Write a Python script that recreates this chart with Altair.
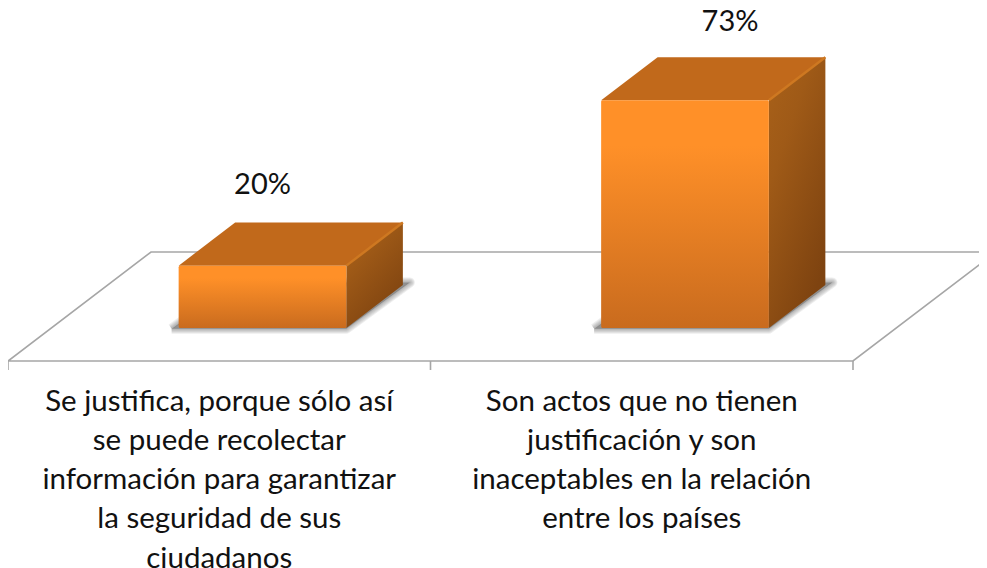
import altair as alt
import pandas as pd

categories = ["A", "B"]
values = [20, 73]
value_labels = ["20%", "73%"]
category_lines = [
    ["Se justifica, porque sólo así", "se puede recolectar", "información para garantizar",
     "la seguridad de sus", "ciudadanos"],
    ["Son actos que no tienen", "justificación y son", "inaceptables en la relación",
     "entre los países"],
]

W, H = 971, 560
PX_X = 422.5            # pixels per category
PX_Y = 3.12             # pixels per percentage point
Y0 = 353.0              # pixel row of the floor's front edge
DX, DY = 143 / PX_X, 109 / PX_Y   # floor depth as x and y units
BAR_W, BAR_D = 0.397, 0.395
x_scale = alt.Scale(domain=[0, W / PX_X], range=[0, W], nice=False, zero=False)
y_scale = alt.Scale(domain=[-(H - Y0) / PX_Y, Y0 / PX_Y], range=[H, 0], nice=False, zero=False)


def px(i, u, d):
    return i + 0.5 + u * BAR_W + d * DX


def py(v, d):
    return v + d * DY


D_F = (1 - BAR_D) / 2
D_B = D_F + BAR_D

X = alt.X("x:Q", scale=x_scale, axis=None)
Y = alt.Y("y:Q", scale=y_scale, axis=None)
X2 = alt.X2("x2:Q")
Y2 = alt.Y2("y2:Q")

# floor
floor = pd.DataFrame([
    {"x": 0, "y": 0, "o": 0},
    {"x": 2, "y": 0, "o": 1},
    {"x": 2 + DX, "y": DY, "o": 2},
    {"x": DX, "y": DY, "o": 3},
    {"x": 0, "y": 0, "o": 4},
])
floor_layer = alt.Chart(floor).mark_line(color="#A6A6A6", strokeWidth=1.6, clip=True).encode(
    x=X, y=Y, order="o:Q")

ticks = pd.DataFrame({"x": [0, 1, 2], "y": [0, 0, 0], "y2": [-9 / PX_Y] * 3})
tick_layer = alt.Chart(ticks).mark_rule(color="#A6A6A6", strokeWidth=1.6).encode(x=X, y=Y, y2=Y2)

# soft shadows on the floor: a filled core and widening translucent outlines
shadow_rows, core_rows = [], []
for i, c in enumerate(categories):
    x_fl, x_fr = px(i, -0.5, D_F) - 7 / PX_X, px(i, 0.5, D_F)
    x_bl, x_br = px(i, -0.5, D_B), px(i, 0.5, D_B) + 7 / PX_X
    yf, yb = py(-0.2, D_F), py(0.8, D_B)
    for o, (a, b) in enumerate([(x_fl, yf), (x_fr, yf), (x_br, yb), (x_bl, yb), (x_fl, yf)]):
        shadow_rows.append({"x": a, "y": b, "o": o, "bar": c})
    core_rows.append({"bar": c, "y": yf, "x": x_fl, "x2": x_fr})
    core_rows.append({"bar": c, "y": yb, "x": x_bl, "x2": x_br})
shadow = pd.DataFrame(shadow_rows)
core = pd.DataFrame(core_rows)
shadow_core = alt.Chart(core).mark_area(orient="horizontal", color="#555555", opacity=0.45).encode(
    y=Y, x=X, x2=X2, detail="bar:N")
shadow_layers = [
    alt.Chart(shadow).mark_line(color="#555555", strokeWidth=w, opacity=0.1, strokeJoin="round").encode(
        x=X, y=Y, order="o:Q", detail="bar:N")
    for w in (10, 8, 6, 4, 2)
] + [shadow_core]

# top faces
top = pd.DataFrame([
    {"bar": c, "y": py(v, d), "x": px(i, -0.5, d), "x2": px(i, 0.5, d)}
    for i, (c, v) in enumerate(zip(categories, values)) for d in (D_F, D_B)
])
top_layer = alt.Chart(top).mark_area(orient="horizontal", color="#C1691B").encode(
    y=Y, x=X, x2=X2, detail="bar:N")

# side faces
side = pd.DataFrame([
    {"bar": c, "x": px(i, 0.5, d), "y": py(v, d), "y2": py(0, d)}
    for i, (c, v) in enumerate(zip(categories, values)) for d in (D_F, D_B)
])
side_grad = alt.Gradient(gradient="linear", x1=0, y1=0, x2=0.6, y2=1, stops=[
    alt.GradientStop(color="#A96119", offset=0),
    alt.GradientStop(color="#9F5A17", offset=0.35),
    alt.GradientStop(color="#7E4310", offset=1),
])
side_layer = alt.Chart(side).mark_area(color=side_grad).encode(x=X, y=Y, y2=Y2, detail="bar:N")

# bevel on the top right edge
bevel = pd.DataFrame([
    {"bar": c, "x": px(i, 0.5, d), "y": py(v, d)}
    for i, (c, v) in enumerate(zip(categories, values)) for d in (D_F, D_B)
])
bevel_layer = alt.Chart(bevel).mark_line(color="#CE7821", strokeWidth=2.5).encode(
    x=X, y=Y, detail="bar:N")

# front faces
front = pd.DataFrame([
    {"bar": c, "x": px(i, -0.5, D_F), "x2": px(i, 0.5, D_F), "y": py(v, D_F), "y2": py(0, D_F)}
    for i, (c, v) in enumerate(zip(categories, values))
])
front_grad = alt.Gradient(gradient="linear", x1=0, y1=0, x2=0, y2=1, stops=[
    alt.GradientStop(color="#FF9028", offset=0),
    alt.GradientStop(color="#FF9028", offset=0.2),
    alt.GradientStop(color="#C96B1E", offset=1),
])
front_layer = alt.Chart(front).mark_rect(color=front_grad, cornerRadius=1.5).encode(
    x=X, x2=X2, y=Y, y2=Y2)

# value labels, placed (offset from the bar's front centre, height above its top)
label_dx = [0, 45]
label_dy = [81, 78]
val_df = pd.DataFrame([
    {"x": px(i, 0, D_F) + label_dx[i] / PX_X, "y": py(v, D_F) + label_dy[i] / PX_Y, "t": t}
    for i, (v, t) in enumerate(zip(values, value_labels))
])
FONT = "Lato"
val_layer = alt.Chart(val_df).mark_text(font=FONT, fontSize=29, color="#111111", align="center",
                                        baseline="middle").encode(x=X, y=Y, text="t:N")

# category labels
line_rows = []
for i, lines in enumerate(category_lines):
    for j, t in enumerate(lines):
        line_rows.append({"x": i + 0.5, "y": -(40.5 + 39.3 * j) / PX_Y, "t": t})
cat_df = pd.DataFrame(line_rows)
cat_layer = alt.Chart(cat_df).mark_text(font=FONT, fontSize=29.5, color="#111111", align="center",
                                        baseline="middle").encode(x=X, y=Y, text="t:N")

chart = alt.layer(
    floor_layer, tick_layer, *shadow_layers, top_layer, side_layer, bevel_layer, front_layer,
    val_layer, cat_layer
).properties(
    width=W, height=H, padding=0, autosize=alt.AutoSizeParams(type="none"), background="#FFFFFF"
).configure_view(stroke=None)

chart.save("out.html", embed_options={"renderer": "svg", "actions": False})
